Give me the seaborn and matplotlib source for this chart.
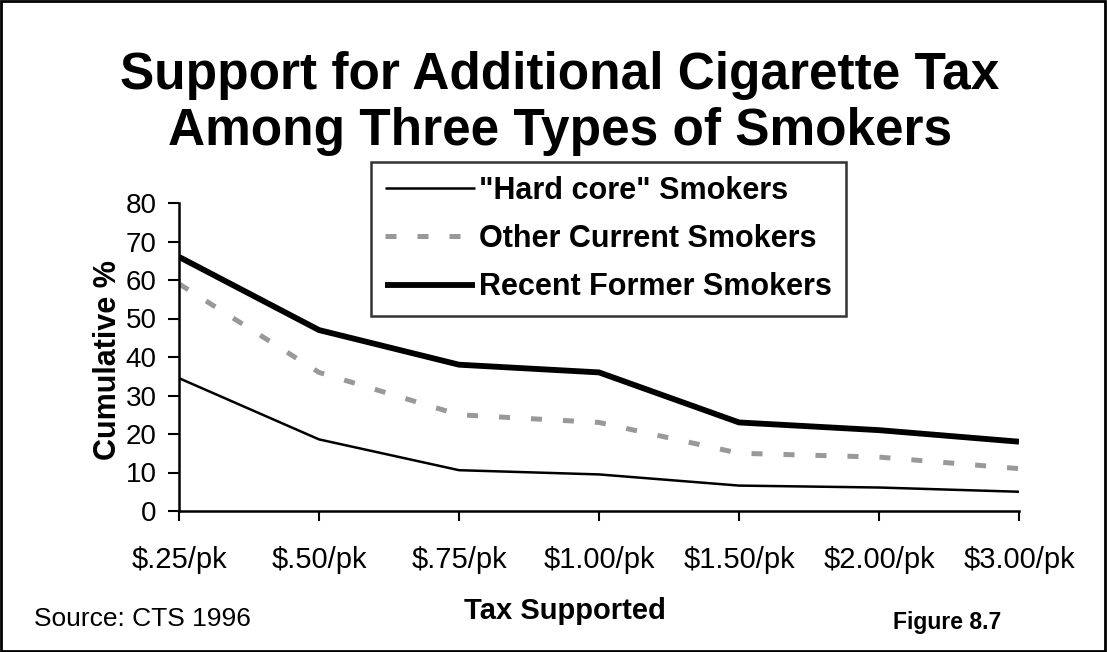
import numpy as np
import pandas as pd
import matplotlib.pyplot as plt
import seaborn as sns
from matplotlib.patches import Rectangle

tax_levels = ["$.25/pk", "$.50/pk", "$.75/pk", "$1.00/pk", "$1.50/pk", "$2.00/pk", "$3.00/pk"]
hard_core = [34.5, 18.6, 10.6, 9.5, 6.6, 6.1, 5.0]
other_current = [59, 36, 25, 23, 15, 14, 11]
recent_former = [66, 47, 38, 36, 23, 21, 18]
series_names = ['"Hard core" Smokers', "Other Current Smokers", "Recent Former Smokers"]

sns.set_style("white")
plt.rcParams["font.family"] = ["Liberation Sans", "DejaVu Sans"]
plt.rcParams["text.color"] = "black"
plt.rcParams["xtick.color"] = "black"
plt.rcParams["ytick.color"] = "black"

df = pd.DataFrame({
    "tax": tax_levels * 3,
    "pct": hard_core + other_current + recent_former,
    "group": np.repeat(series_names, len(tax_levels)),
})

fig = plt.figure(figsize=(11.07, 6.52), dpi=100)
ax = fig.add_axes([179 / 1107, 1 - 511 / 652, 840 / 1107, 308 / 652])

styles = {
    series_names[0]: dict(color="black", lw=1.8, ls="-"),
    series_names[1]: dict(color="#999999", lw=3.6, ls=(0, (2.2, 4.2))),
    series_names[2]: dict(color="black", lw=4.2, ls="-"),
}
for name in series_names:
    sub = df[df["group"] == name]
    st = styles[name]
    sns.lineplot(data=sub, x="tax", y="pct", ax=ax, color=st["color"],
                 linewidth=st["lw"], linestyle=st["ls"], label=name,
                 sort=False, solid_capstyle="butt", dash_capstyle="butt")

ax.set_xlim(0, len(tax_levels) - 1)
ax.set_ylim(0, 80)
ax.set_yticks(range(0, 81, 10))
ax.tick_params(axis="y", labelsize=20, length=8, width=1.5, direction="out", left=True, pad=8)
ax.tick_params(axis="x", labelsize=21, length=7, width=1.5, direction="out", bottom=True, pad=18)
for side in ["top", "right"]:
    ax.spines[side].set_visible(False)
for side in ["left", "bottom"]:
    ax.spines[side].set_linewidth(1.8)
    ax.spines[side].set_color("black")
ax.set_xlabel("")
ax.set_ylabel("")

leg = ax.legend(loc="upper left", bbox_to_anchor=((371 - 179) / 840, (511 - 162) / 308),
                frameon=True, fancybox=False, fontsize=22, handlelength=2.95,
                handletextpad=0.15, labelspacing=0.6, borderpad=0.45, borderaxespad=0)
leg.get_frame().set_edgecolor("black")
leg.get_frame().set_linewidth(1.8)
for t in leg.get_texts():
    t.set_fontweight("bold")
    t.set_color("black")

fig.text(560 / 1107, 1 - 76 / 652, "Support for Additional Cigarette Tax", ha="center",
         va="center", fontsize=37, fontweight="bold")
fig.text(560 / 1107, 1 - 132 / 652, "Among Three Types of Smokers", ha="center",
         va="center", fontsize=37, fontweight="bold")
fig.text(108 / 1107, 1 - 360 / 652, "Cumulative %", rotation=90, ha="center",
         va="center", fontsize=22, fontweight="bold")
fig.text(565 / 1107, 1 - 611 / 652, "Tax Supported", ha="center", va="center",
         fontsize=21, fontweight="bold")
fig.text(34 / 1107, 1 - 619 / 652, "Source: CTS 1996", ha="left", va="center", fontsize=19)
fig.text(1001 / 1107, 1 - 623 / 652, "Figure 8.7", ha="right", va="center",
         fontsize=16.5, fontweight="bold")

fig.patches.append(Rectangle((0.001, 0.002), 0.997, 0.996, transform=fig.transFigure,
                             fill=False, edgecolor="black", linewidth=2))

fig.savefig("out.png", dpi=100)
